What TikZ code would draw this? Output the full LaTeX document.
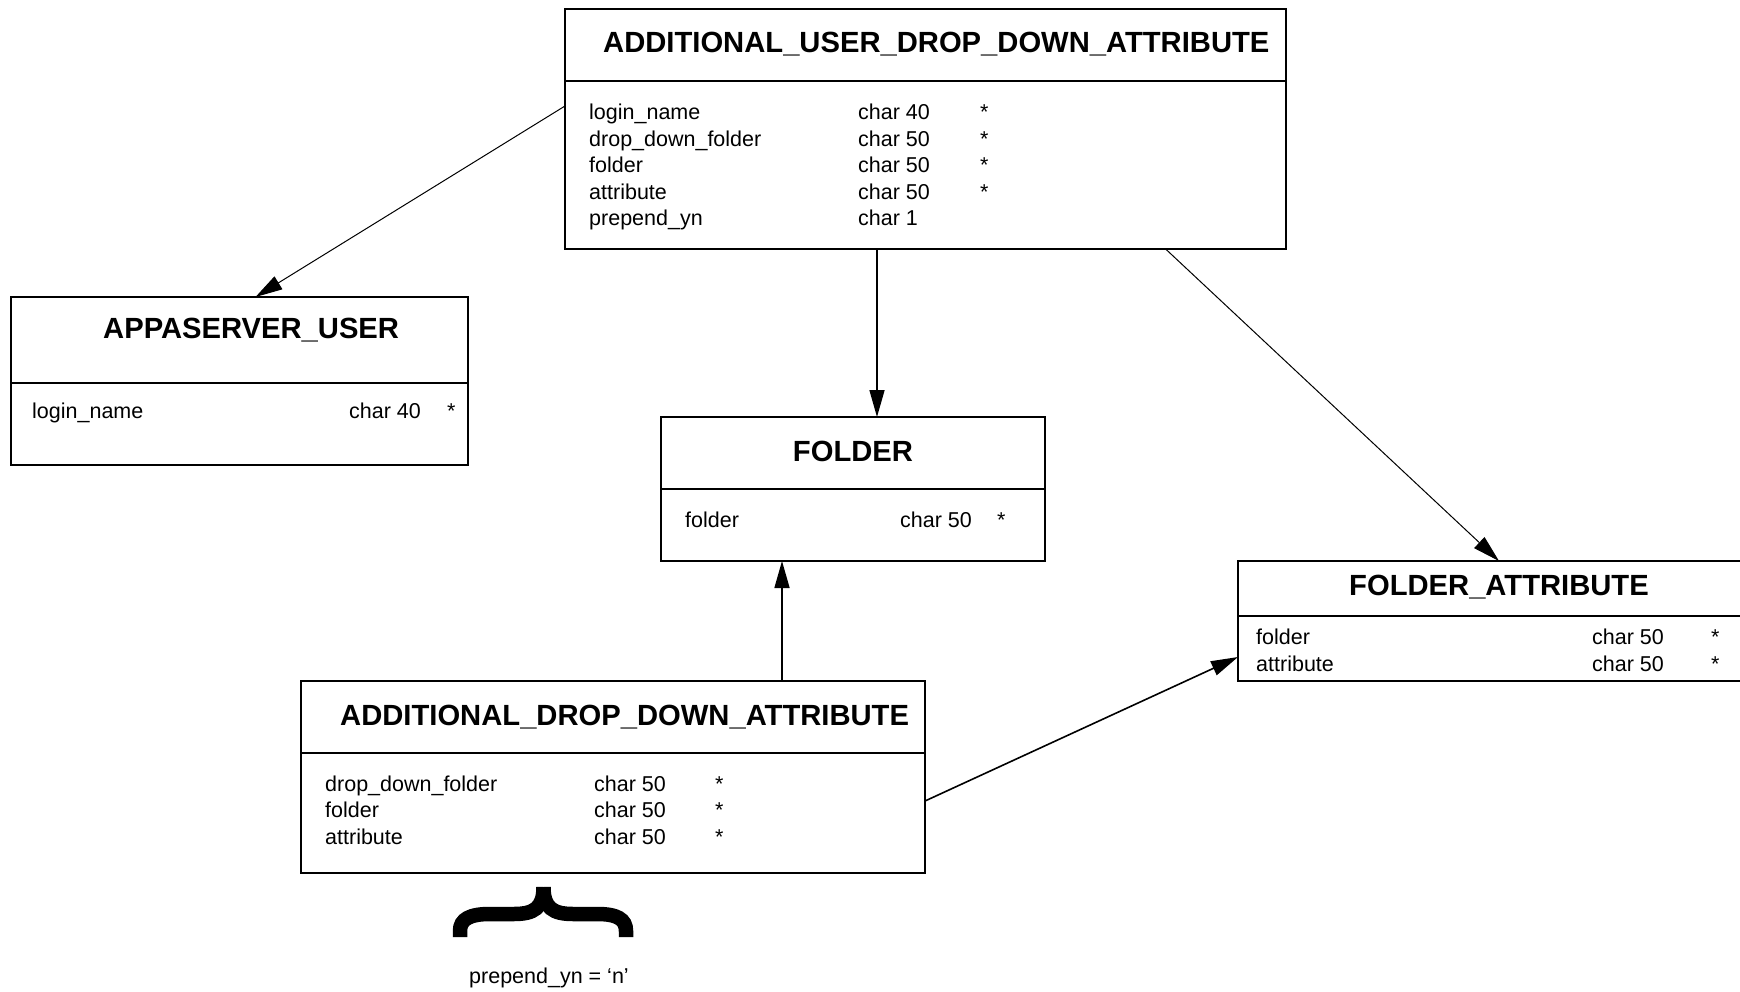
\documentclass[tikz,border=0pt]{standalone}
\usepackage{fontspec}
\setmainfont{Liberation Sans}
\usetikzlibrary{arrows.meta}
\begin{document}
\begin{tikzpicture}[x=1pt,y=-1pt,
  tbl/.style={draw, line width=2pt, outer sep=0pt, inner sep=0pt, anchor=north west},
  ttl/.style={font=\fontsize{29.2}{34}\selectfont\bfseries, inner sep=0pt, anchor=base west},
  fld/.style={font=\fontsize{21.5}{26}\selectfont, inner sep=0pt, anchor=base west},
  conn/.style={line width=1pt, -{Triangle[length=27pt,width=15pt]}},
  connv/.style={conn, line width=1.6pt},
  divl/.style={line width=2pt},
  bracel/.style={line width=14.5pt}]
\useasboundingbox (0,0) rectangle (1740,992);
\clip (0,0) rectangle (1740,992);

% ---------- ADDITIONAL_USER_DROP_DOWN_ATTRIBUTE
\node[tbl, minimum width=721pt, minimum height=240pt] (udda) at (565,9) {};
\draw[divl] ([yshift=-72pt]udda.north west) -- ([yshift=-72pt]udda.north east);
\node[ttl] (uddaT) at (603,53) {ADDITIONAL\_USER\_DROP\_DOWN\_ATTRIBUTE};
\node[fld] (u1a) at (589,120) {login\_name};
\node[fld] (u1b) at (858,120) {char 40};
\node[fld] (u1c) at (980,120) {*};
\node[fld] (u2a) at (589,146.5) {drop\_down\_folder};
\node[fld] (u2b) at (858,146.5) {char 50};
\node[fld] (u2c) at (980,146.5) {*};
\node[fld] (u3a) at (589,173) {folder};
\node[fld] (u3b) at (858,173) {char 50};
\node[fld] (u3c) at (980,173) {*};
\node[fld] (u4a) at (589,199.5) {attribute};
\node[fld] (u4b) at (858,199.5) {char 50};
\node[fld] (u4c) at (980,199.5) {*};
\node[fld] (u5a) at (589,226) {prepend\_yn};
\node[fld] (u5b) at (858,226) {char 1};

% ---------- APPASERVER_USER
\node[tbl, minimum width=457pt, minimum height=168pt] (au) at (11,297) {};
\draw[divl] ([yshift=-86pt]au.north west) -- ([yshift=-86pt]au.north east);
\node[ttl] (auT) at (103,338) {APPASERVER\_USER};
\node[fld] (a1a) at (32,418) {login\_name};
\node[fld] (a1b) at (349,418) {char 40};
\node[fld] (a1c) at (447,418) {*};

% ---------- FOLDER
\node[tbl, minimum width=384pt, minimum height=144pt] (fo) at (661,417) {};
\draw[divl] ([yshift=-72pt]fo.north west) -- ([yshift=-72pt]fo.north east);
\node[ttl, anchor=base] (foT) at (853,461) {FOLDER};
\node[fld] (f1a) at (685,527) {folder};
\node[fld] (f1b) at (900,527) {char 50};
\node[fld] (f1c) at (997,527) {*};

% ---------- FOLDER_ATTRIBUTE
\node[tbl, minimum width=540pt, minimum height=120pt] (fa) at (1238,561) {};
\draw[divl] ([yshift=-55pt]fa.north west) -- ([yshift=-55pt]fa.north east);
\node[ttl] (faT) at (1349,595) {FOLDER\_ATTRIBUTE};
\node[fld] (g1a) at (1256,644) {folder};
\node[fld] (g1b) at (1592,644) {char 50};
\node[fld] (g1c) at (1711,644) {*};
\node[fld] (g2a) at (1256,671) {attribute};
\node[fld] (g2b) at (1592,671) {char 50};
\node[fld] (g2c) at (1711,671) {*};

% ---------- ADDITIONAL_DROP_DOWN_ATTRIBUTE
\node[tbl, minimum width=624pt, minimum height=192pt] (adda) at (301,681) {};
\draw[divl] ([yshift=-72pt]adda.north west) -- ([yshift=-72pt]adda.north east);
\node[ttl] (addaT) at (340,725) {ADDITIONAL\_DROP\_DOWN\_ATTRIBUTE};
\node[fld] (d1a) at (325,791) {drop\_down\_folder};
\node[fld] (d1b) at (594,791) {char 50};
\node[fld] (d1c) at (715,791) {*};
\node[fld] (d2a) at (325,817.5) {folder};
\node[fld] (d2b) at (594,817.5) {char 50};
\node[fld] (d2c) at (715,817.5) {*};
\node[fld] (d3a) at (325,844) {attribute};
\node[fld] (d3b) at (594,844) {char 50};
\node[fld] (d3c) at (715,844) {*};

% ---------- brace and condition
\draw[bracel] (460,937) -- (460,931)
  .. controls (460,919) and (470,914) .. (490,914) -- (514,914)
  .. controls (534,914) and (543.5,908) .. (543.5,887);
\draw[bracel] (543.5,887)
  .. controls (543.5,908) and (553,914) .. (573,914) -- (597,914)
  .. controls (617,914) and (626,919) .. (626,931) -- (626,937);
\node[fld] (cond) at (469,983) {prepend\_yn = ‘n’};

% ---------- connectors
\draw[conn] ([yshift=-97pt]udda.north west) -- ([xshift=244.5pt]au.north west);
\draw[connv] ([xshift=312pt]udda.south west) -- ([xshift=216pt]fo.north west);
\draw[conn] ([xshift=600.6pt]udda.south west) -- ([xshift=261pt]fa.north west);
\draw[connv] ([xshift=481pt]adda.north west) -- ([xshift=121pt]fo.south west);
\draw[connv] ([yshift=-120pt]adda.north east) -- ([yshift=-96pt]fa.north west);
\end{tikzpicture}
\end{document}
